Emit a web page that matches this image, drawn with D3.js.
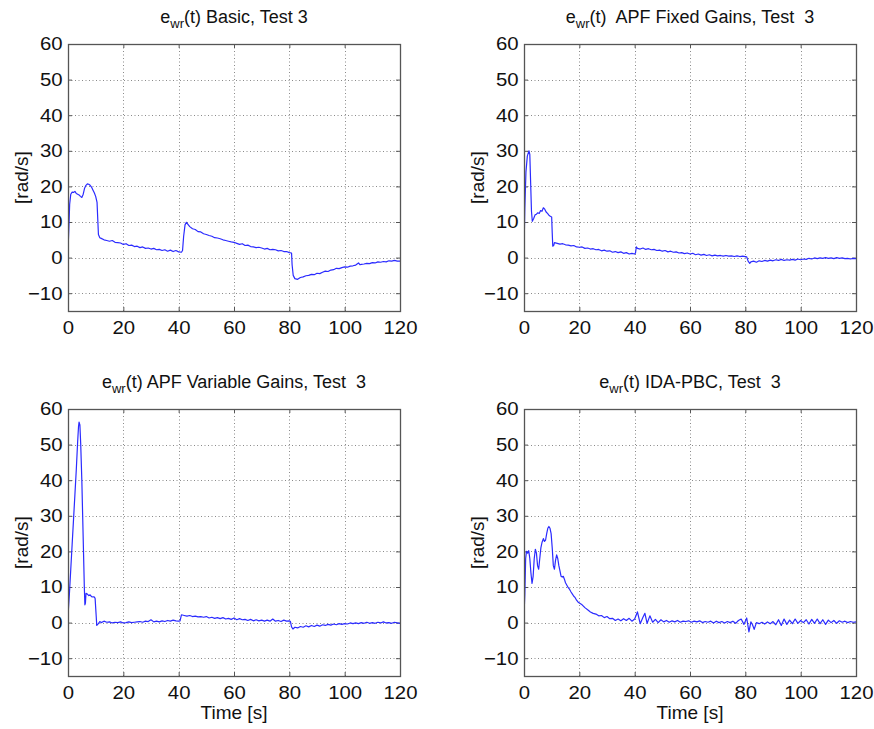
<!DOCTYPE html>
<html>
<head>
<meta charset="utf-8">
<script src="https://cdn.jsdelivr.net/npm/d3@7"></script>
<style>
  body { margin: 0; background: #fff; }
  svg text { font-family: "Liberation Sans", Arial, sans-serif; fill: #111; white-space: pre; }
</style>
</head>
<body>
<svg id="chart" width="874" height="729"></svg>
<script>
// tick values shared by all four panels
const xTicks = [0, 20, 40, 60, 80, 100, 120];
const yTicks = [-10, 0, 10, 20, 30, 40, 50, 60];

// panel titles (subscript part kept apart)
const titleRest = [
  '(t) Basic, Test 3',
  '(t)  APF Fixed Gains, Test  3',
  '(t) APF Variable Gains, Test  3',
  '(t) IDA-PBC, Test  3'
];

// [time s, error rad/s]
const basic = [[0,2.2],[0.3,8],[0.6,15],[1,17.8],[1.5,18.4],[2,18.3],[2.5,18.6],[3,18],[3.5,17.8],[4,17.6],[4.5,17.2],[5,16.9],[5.5,17.8],[6,19.5],[6.5,20.3],[7,20.7],[7.5,20.6],[8,20.3],[8.5,19.8],[9,19],[9.5,18.2],[10,17.2],[10.5,15.5],[10.8,10],[11,6.5],[11.5,5.6],[12,5.4],[13,5],[14,4.8],[15,4.6],[16,4.8],[17,4.3],[18,4.2],[19,4.1],[20,3.7],[21,3.9],[22,3.4],[23,3.5],[24,3.1],[25,3.2],[26,2.8],[27,3.0],[28,2.6],[29,2.7],[30,2.4],[31,2.6],[32,2.2],[33,2.3],[34,2.0],[35,2.2],[36,1.8],[37,2.1],[38,1.7],[39,2.0],[40,1.6],[41,1.5],[41.4,2.0],[41.8,6],[42.3,9.2],[42.8,9.9],[43.5,9.2],[44,8.7],[45,8.1],[46,7.9],[47,7.3],[48,7.2],[49,6.7],[50,6.5],[51,6.2],[52,6.0],[53,5.6],[54,5.5],[55,5.3],[56,5.0],[57,4.8],[58,4.6],[59,4.4],[60,4.3],[61,4.0],[62,3.7],[63,3.9],[64,3.4],[65,3.5],[66,3.1],[67,3.0],[68,2.8],[69,2.9],[70,2.7],[71,2.4],[72,2.6],[73,2.2],[74,2.3],[75,2.2],[76,1.9],[77,2.0],[78,1.7],[79,1.7],[80,1.4],[80.8,1.3],[81,-2],[81.4,-5],[82,-5.9],[83,-6.1],[84,-5.6],[85,-5.4],[86,-5.1],[87,-5.0],[88,-4.7],[89,-4.8],[90,-4.4],[91,-4.5],[92,-4.1],[93,-3.8],[94,-3.9],[95,-3.5],[96,-3.4],[97,-3.0],[98,-3.1],[99,-2.8],[100,-2.6],[101,-2.7],[102,-2.4],[103,-2.3],[104,-2.1],[105,-1.5],[105.5,-2.0],[106,-1.9],[107,-1.8],[108,-1.6],[109,-1.7],[110,-1.4],[111,-1.5],[112,-1.2],[113,-1.3],[114,-1.1],[115,-1.2],[116,-0.9],[117,-1.0],[118,-0.8],[119,-1.0],[120,-1.0]];

const fixedGains = [[0,2],[0.3,14],[0.7,24],[1.2,28.5],[1.8,30],[2.1,29],[2.4,21],[2.7,13],[3,10.2],[3.5,11],[4,12],[4.5,12.2],[5,12.6],[5.5,12.4],[6,13.2],[6.5,13],[7,14],[7.5,13.6],[8,12.8],[8.5,12.4],[9,11.9],[9.5,11.6],[10,11.4],[10.2,7],[10.4,3.2],[10.8,3.5],[11,4.2],[12,4.0],[13,3.8],[14,3.9],[15,3.6],[16,3.5],[17,3.3],[18,3.4],[19,3.0],[20,2.9],[21,3.0],[22,2.6],[23,2.7],[24,2.4],[25,2.5],[26,2.2],[27,2.3],[28,1.9],[29,2.1],[30,1.8],[31,1.9],[32,1.5],[33,1.7],[34,1.4],[35,1.6],[36,1.2],[37,1.4],[38,1.0],[39,1.2],[40,1.0],[40.3,1.3],[40.6,3.0],[41,2.6],[42,2.4],[43,2.7],[44,2.3],[45,2.5],[46,2.2],[47,2.3],[48,2.0],[49,2.1],[50,1.8],[51,2.0],[52,1.6],[53,1.8],[54,1.5],[55,1.6],[56,1.3],[57,1.4],[58,1.1],[59,1.3],[60,1.0],[61,1.2],[62,0.8],[63,1.0],[64,0.7],[65,0.9],[66,0.6],[67,0.8],[68,0.5],[69,0.7],[70,0.5],[71,0.6],[72,0.4],[73,0.6],[74,0.4],[75,0.5],[76,0.3],[77,0.5],[78,0.3],[79,0.4],[80,0.3],[80.5,0.2],[81,-1.0],[81.6,-1.6],[82,-1.2],[83,-1.0],[84,-1.3],[85,-0.9],[86,-1.1],[87,-0.8],[88,-1.0],[89,-0.7],[90,-0.9],[91,-0.6],[92,-0.8],[93,-0.5],[94,-0.8],[95,-0.6],[96,-0.7],[97,-0.5],[98,-0.7],[99,-0.4],[100,-0.6],[101,-0.4],[102,-0.5],[103,-0.2],[104,-0.4],[105,-0.1],[106,-0.3],[107,-0.1],[108,-0.2],[109,0.0],[110,-0.2],[111,-0.1],[112,-0.3],[113,0.0],[114,-0.2],[115,-0.1],[116,-0.3],[117,-0.2],[118,-0.4],[119,-0.2],[120,-0.3]];

const variableGains = [[0,2],[0.5,8],[1,15],[1.5,22],[2,29],[2.5,36],[3,43],[3.5,51],[3.8,55],[4,56.3],[4.3,55.5],[4.6,50],[5,40],[5.3,30],[5.6,20],[5.9,10],[6.1,5],[6.3,5.5],[6.5,8.2],[7,8],[7.5,7.6],[8,7.8],[8.5,7.3],[9,7.2],[9.5,7.2],[9.8,6.8],[10.1,3],[10.4,-0.8],[11,-0.3],[11.5,0.3],[12,0],[13,0.4],[14,0.1],[15,0.2],[16,-0.1],[17,0.1],[18,0],[19,0.2],[20,-0.1],[21,0],[22,0.2],[23,0],[24,0.1],[25,0.2],[26,0.3],[27,0.1],[28,0.4],[29,0.3],[30,0.8],[31,0.2],[32,0.4],[33,0.2],[34,0.5],[35,0.3],[36,0.6],[37,0.4],[38,0.7],[39,0.5],[40,0.4],[40.5,0.5],[41,2.2],[42,2.0],[43,1.8],[44,2.0],[45,1.7],[46,1.8],[47,1.6],[48,1.7],[49,1.5],[50,1.7],[51,1.3],[52,1.5],[53,1.2],[54,1.4],[55,1.1],[56,1.4],[57,1.0],[58,1.2],[59,0.9],[60,1.3],[61,0.8],[62,1.1],[63,0.8],[64,0.9],[65,0.6],[66,0.9],[67,0.5],[68,0.8],[69,0.5],[70,0.7],[71,0.4],[72,0.7],[73,0.4],[74,1.0],[75,0.4],[76,0.6],[77,0.3],[78,0.7],[79,0.4],[80,0.5],[80.4,0.3],[80.8,-1.2],[81.3,-1.8],[82,-1.3],[83,-1.5],[84,-1.1],[85,-1.3],[86,-0.9],[87,-1.2],[88,-0.8],[89,-1.1],[90,-0.7],[91,-1.0],[92,-0.6],[93,-0.8],[94,-0.5],[95,-0.7],[96,-0.4],[97,-0.6],[98,-0.3],[99,-0.5],[100,-0.3],[101,-0.4],[102,-0.1],[103,-0.3],[104,-0.1],[105,-0.3],[106,0],[107,-0.2],[108,0.1],[109,-0.2],[110,0],[111,-0.2],[112,0.1],[113,-0.1],[114,0.2],[115,-0.1],[116,0],[117,-0.2],[118,0.1],[119,-0.1],[120,-0.2]];

const idaPbc = [[0,2],[0.3,8],[0.6,18],[0.9,20],[1.3,19.5],[1.7,20.2],[2.1,18],[2.5,14],[2.9,11],[3.3,13],[3.7,18],[4.1,20.6],[4.5,19.5],[4.9,16],[5.3,15],[5.7,18],[6.1,21],[6.5,22.5],[7,23.6],[7.4,22.8],[7.8,23.2],[8.2,25],[8.6,26.5],[9,27],[9.4,26.5],[9.8,25],[10.2,21],[10.6,16],[11,15],[11.4,17.5],[11.8,19],[12.2,18],[12.6,16],[13,14.5],[13.4,13],[13.8,12.8],[14.2,13],[14.6,12.2],[15,11.2],[15.5,10.5],[16,9.8],[16.5,9.3],[17,8.6],[17.5,8],[18,7.4],[18.5,7],[19,6.3],[19.5,5.8],[20,5.5],[21,5],[22,4.2],[23,3.6],[24,3.0],[25,2.6],[26,2.4],[27,1.9],[28,2.0],[29,1.4],[30,1.7],[31,1.1],[32,1.2],[33,0.6],[34,1.0],[35,0.5],[36,1.1],[37,0.6],[38,1.2],[39,0.4],[40,1.0],[41,3.0],[42,-0.3],[43,1.5],[43.7,2.6],[44.5,-0.2],[45.5,1.9],[46.5,0.1],[47.5,0.9],[48.5,0.0],[49.5,0.8],[50.5,0.2],[51.5,0.6],[52.5,0.1],[53.5,0.5],[54.5,0.2],[55.5,0.6],[56.5,0.1],[57.5,0.4],[58.5,0.3],[59.5,0.5],[60.5,0.1],[61.5,0.4],[62.5,0.2],[63.5,0.5],[64.5,0.0],[65.5,0.3],[66.5,0.1],[67.5,0.4],[68.5,-0.1],[69.5,0.4],[70.5,0.0],[71.5,0.3],[72.5,-0.1],[73.5,0.3],[74.5,0.0],[75.5,0.4],[76.5,-0.2],[77.5,0.6],[78.5,1.0],[79.5,-0.5],[80.5,1.3],[81.3,-2.6],[82,0.2],[82.6,-0.6],[83.2,-1.9],[84,0],[85,-0.3],[86,0.1],[87,-0.4],[88,0.2],[89,-0.3],[90,0.3],[91,-0.6],[92,0.8],[93,-0.8],[94,1.0],[95,-0.5],[96,0.7],[97,-0.3],[98,1.0],[99,-0.2],[100,0.6],[101,0.0],[102,0.8],[103,-0.4],[104,0.9],[105,-0.2],[106,1.0],[107,-0.3],[108,0.8],[109,-0.5],[110,0.7],[111,0.0],[112,0.6],[113,-0.2],[114,0.5],[115,0.1],[116,0.4],[117,0.0],[118,0.3],[119,0.1],[120,0.2]];

const series = [basic, fixedGains, variableGains, idaPbc];

// plot frames in page pixels
const panels = [
  { left: 68,  top: 44,  xLabel: false },
  { left: 524, top: 44,  xLabel: false },
  { left: 68,  top: 409, xLabel: true },
  { left: 524, top: 409, xLabel: true }
];
const W = 332, H = 267;

const svg = d3.select('#chart');

// tick text in the source is a bit wider than Liberation Sans
function tickText(sel) {
  sel.selectAll('text')
    .attr('font-size', 18.5)
    .attr('fill', '#111')
    .attr('font-family', 'Liberation Sans, Arial, sans-serif')
    .attr('transform', 'scale(1.1,1)');
}

panels.forEach((p, i) => {
  const g = svg.append('g').attr('transform', `translate(${p.left},${p.top})`);
  const x = d3.scaleLinear().domain([0, 120]).range([0, W]);
  const y = d3.scaleLinear().domain([-15, 60]).range([H, 0]);

  // dotted grid
  g.append('g')
    .selectAll('line')
    .data(xTicks.slice(1, -1))
    .join('line')
    .attr('x1', d => Math.round(x(d)) + 0.5).attr('x2', d => Math.round(x(d)) + 0.5)
    .attr('y1', 0).attr('y2', H)
    .attr('stroke', '#8a8a8a').attr('stroke-width', 1)
    .attr('stroke-dasharray', '1,2.5');
  g.append('g')
    .selectAll('line')
    .data(yTicks.slice(0, -1))
    .join('line')
    .attr('y1', d => Math.round(y(d)) + 0.5).attr('y2', d => Math.round(y(d)) + 0.5)
    .attr('x1', 0).attr('x2', W)
    .attr('stroke', '#8a8a8a').attr('stroke-width', 1)
    .attr('stroke-dasharray', '1,2.5');

  // inner ticks on all four sides
  const tk = 4;
  const axStyle = sel => sel.call(s => s.select('.domain').remove())
    .call(s => s.selectAll('line').attr('stroke', '#555'));
  g.append('g').attr('transform', `translate(0,${H})`)
    .call(d3.axisBottom(x).tickValues(xTicks).tickSize(-tk).tickPadding(10).tickFormat(d3.format('d')))
    .call(axStyle)
    .call(tickText);
  g.append('g')
    .call(d3.axisTop(x).tickValues(xTicks).tickSize(-tk).tickFormat(''))
    .call(axStyle);
  g.append('g')
    .call(d3.axisLeft(y).tickValues(yTicks).tickSize(-tk).tickPadding(0).tickFormat(d3.format('d')))
    .call(axStyle)
    .call(tickText)
    .call(s => s.selectAll('text').attr('x', -5));
  g.append('g').attr('transform', `translate(${W},0)`)
    .call(d3.axisRight(y).tickValues(yTicks).tickSize(-tk).tickFormat(''))
    .call(axStyle);

  // clip + line
  svg.append('clipPath').attr('id', 'clip' + i)
    .append('rect').attr('width', W).attr('height', H);
  const line = d3.line().x(d => x(d[0])).y(d => y(d[1]));
  g.append('path')
    .datum(series[i])
    .attr('clip-path', `url(#clip${i})`)
    .attr('fill', 'none')
    .attr('stroke', '#2b2bff')
    .attr('stroke-width', 1.2)
    .attr('stroke-linejoin', 'round')
    .attr('d', line);

  // frame
  g.append('rect')
    .attr('x', 0.5).attr('y', 0.5).attr('width', W).attr('height', H)
    .attr('fill', 'none').attr('stroke', '#555').attr('stroke-width', 1.3);

  // title with subscript
  const t = g.append('text')
    .attr('x', W / 2).attr('y', -21)
    .attr('text-anchor', 'middle')
    .attr('font-size', 18);
  t.append('tspan').text('e');
  t.append('tspan').attr('font-size', 13).attr('dy', 5).text('wr');
  t.append('tspan').attr('dy', -5).text(titleRest[i]);

  // y label
  g.append('text')
    .attr('transform', `translate(-47,${H / 2}) rotate(-90)`)
    .attr('text-anchor', 'middle')
    .attr('dy', '0.35em')
    .attr('font-size', 19)
    .text('[rad/s]');

  if (p.xLabel) {
    g.append('text')
      .attr('x', W / 2).attr('y', H + 43)
      .attr('text-anchor', 'middle')
      .attr('font-size', 19)
      .text('Time [s]');
  }
});
</script>
</body>
</html>
